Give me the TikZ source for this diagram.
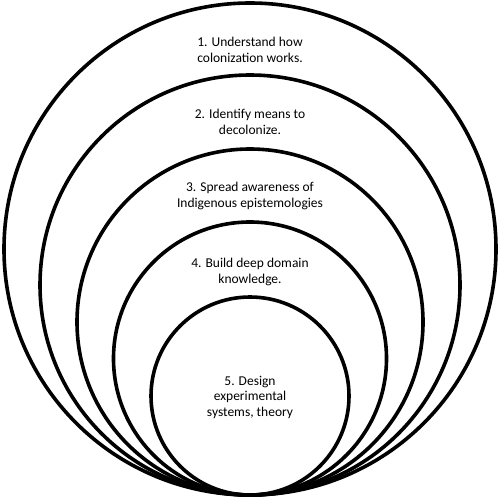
\documentclass[tikz,border=0pt]{standalone}
\usepackage{fontspec}
\setmainfont{Carlito}
\begin{document}
\begin{tikzpicture}[x=1pt,y=-1pt,
  ring/.style={draw=black,line width=3.6pt},
  lbl/.style={align=center,font=\fontsize{13.5}{15.5}\selectfont,inner sep=0pt}]
\useasboundingbox (0,0) rectangle (500,498);
\fill[white] (0,0) rectangle (500,498);
\draw[ring] (250,249) circle (246);
\draw[ring] (250,285) circle (210);
\draw[ring] (250,322) circle (173);
\draw[ring] (250,358.5) circle (136.5);
\draw[ring] (250,396) circle (99);
\node[lbl] (t1) at (250,50) {1. Understand how\\colonization works.};
\node[lbl] (t2) at (250,122) {2. Identify means to\\decolonize.};
\node[lbl] (t3) at (250,196) {3. Spread awareness of\\Indigenous epistemologies};
\node[lbl] (t4) at (250,272) {4. Build deep domain\\knowledge.};
\node[lbl] (t5) at (250,397) {5. Design\\experimental\\systems, theory};
\end{tikzpicture}
\end{document}
